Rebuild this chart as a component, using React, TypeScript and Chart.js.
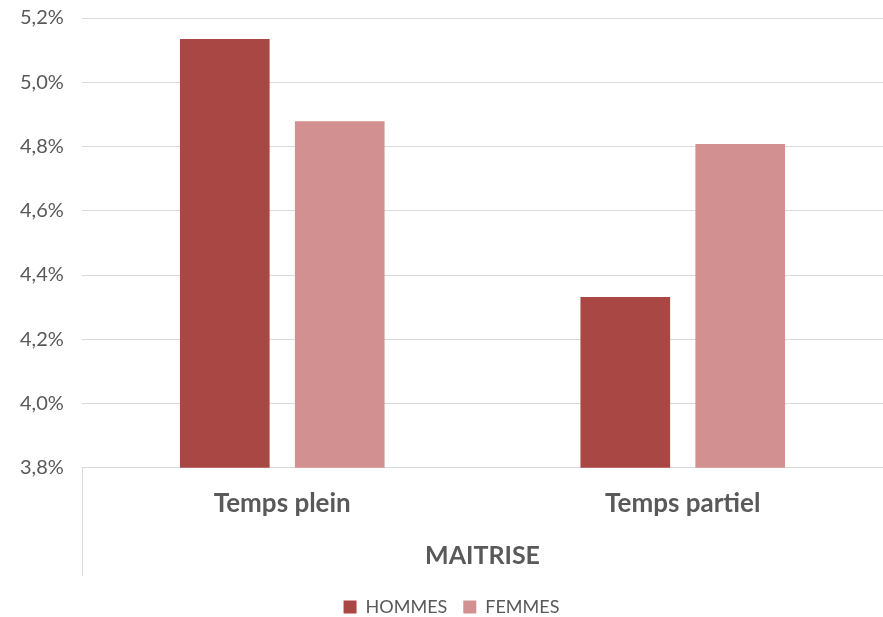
import React, { useEffect, useRef } from "react";
import { Chart, registerables } from "chart.js";

Chart.register(...registerables);

const categories = ["Temps plein", "Temps partiel"];
const hommes = [5.135, 4.332];
const femmes = [4.879, 4.808];
const axisTitle = "MAITRISE";
const yMin = 3.8;
const yMax = 5.2;
const yStep = 0.2;

const FONT = "Lato, 'Open Sans', sans-serif";
const TEXT = "#595959";
const GRID = "#d9d9d9";

const leftLinePlugin = {
  id: "leftLine",
  afterDraw(chart: any) {
    const { ctx, chartArea } = chart;
    ctx.save();
    ctx.strokeStyle = GRID;
    ctx.lineWidth = 1;
    ctx.beginPath();
    const x = Math.round(chartArea.left) + 0.5;
    ctx.moveTo(x, chartArea.bottom);
    ctx.lineTo(x, chartArea.bottom + 108);
    ctx.stroke();
    ctx.restore();
  },
};

export default function App() {
  const ref = useRef<HTMLCanvasElement | null>(null);
  useEffect(() => {
    if (!ref.current) return;
    const chart = new Chart(ref.current, {
      type: "bar",
      data: {
        labels: categories,
        datasets: [
          { label: "HOMMES", data: hommes, backgroundColor: "#A94744" },
          { label: "FEMMES", data: femmes, backgroundColor: "#D39090" },
        ],
      },
      options: {
        animation: false,
        responsive: false,
        maintainAspectRatio: false,
        layout: { padding: { top: 18, right: 0, left: 20, bottom: -9 } },
        datasets: { bar: { categoryPercentage: 0.574, barPercentage: 0.78 } } as any,
        plugins: {
          legend: {
            position: "bottom",
            labels: {
              boxWidth: 13,
              boxHeight: 13,
              padding: 16,
              color: TEXT,
              font: { family: FONT, size: 18 },
            },
          },
          tooltip: { enabled: false },
        },
        scales: {
          x: {
            grid: { display: false, drawTicks: false },
            border: { display: true, color: GRID },
            ticks: {
              color: TEXT,
              padding: 20,
              font: { family: FONT, size: 26, weight: "bold" },
            },
            title: {
              display: true,
              text: axisTitle,
              color: TEXT,
              padding: { top: 2, bottom: 11 },
              font: { family: FONT, size: 25, weight: "bold" },
            },
          },
          y: {
            min: yMin,
            max: yMax,
            afterFit: (s: any) => {
              s.width = 62;
            },
            ticks: {
              stepSize: yStep,
              color: TEXT,
              padding: 0,
              crossAlign: "far",
              font: { family: FONT, size: 20 },
              callback: (v: any) => Number(v).toFixed(1).replace(".", ",") + "%",
            },
            grid: { color: GRID, drawTicks: false },
            border: { display: false },
          },
        },
      },
      plugins: [leftLinePlugin],
    });
    return () => chart.destroy();
  }, []);
  return (
    <div style={{ position: "fixed", left: 0, top: 0, width: 883, height: 617, background: "#fff" }}>
      <canvas ref={ref} width={883} height={617} />
    </div>
  );
}
